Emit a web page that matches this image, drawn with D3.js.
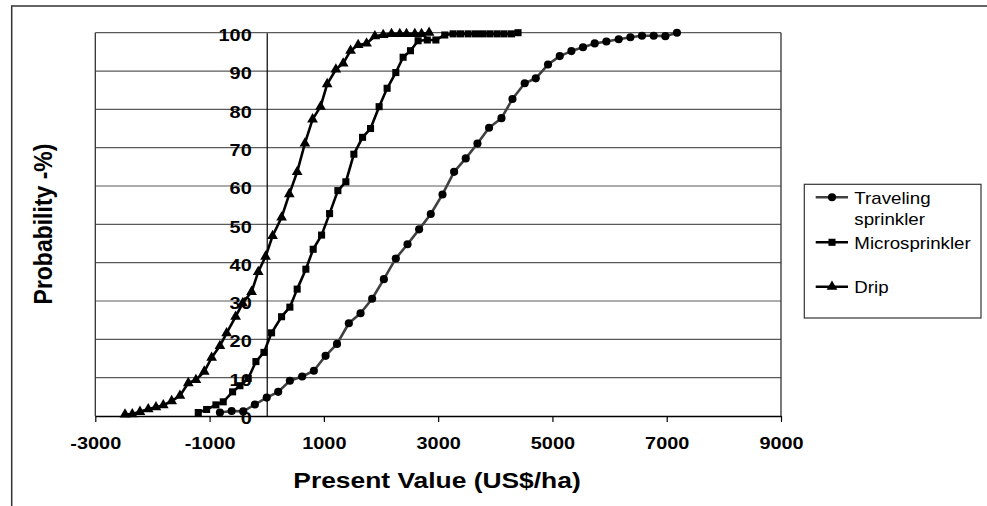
<!DOCTYPE html>
<html><head><meta charset="utf-8">
<script src="https://cdn.jsdelivr.net/npm/d3@7"></script>
<style>body{margin:0;background:#fff;}svg{display:block;font-family:"Liberation Sans",Arial,sans-serif;}</style>
</head><body>
<svg id="chart" width="987" height="506"></svg>
<script>
const seriesNames = ["Traveling sprinkler", "Microsprinkler", "Drip"];
const travelingValues = [[-819,0.9],[-614,1.3],[-411,1.2],[-207,3.0],[0,4.8],[201,6.3],[405,9.2],[620,10.3],[825,11.8],[1030,15.7],[1230,18.8],[1437,24.2],[1642,26.8],[1845,30.6],[2050,35.7],[2259,41.1],[2464,44.8],[2667,48.7],[2871,52.7],[3076,57.8],[3279,63.7],[3483,67.2],[3688,71.1],[3891,75.2],[4108,77.7],[4300,82.7],[4515,86.8],[4708,88.1],[4923,91.7],[5128,93.9],[5332,95.2],[5535,96.2],[5740,97.2],[5944,97.7],[6160,98.3],[6364,98.8],[6567,99.2],[6772,99.2],[6976,99.1],[7179,100]];
const microValues = [[-1198,0.9],[-1052,1.7],[-889,2.9],[-761,3.7],[-597,6.3],[-469,7.9],[-324,9.8],[-189,14.2],[-49,16.6],[85,21.7],[260,25.9],[405,28.4],[533,33.1],[685,38.3],[813,43.5],[960,47.2],[1100,52.8],[1245,58.8],[1385,61.1],[1525,68.3],[1677,72.7],[1817,75.0],[1967,80.7],[2107,85.5],[2259,89.6],[2387,93.6],[2516,95.3],[2649,97.9],[2810,98.1],[2960,98.1],[3116,99.4],[3262,99.7],[3391,99.7],[3524,99.7],[3653,99.7],[3776,99.7],[3903,99.7],[4031,99.7],[4154,99.7],[4283,99.7],[4398,100]];
const dripValues = [[-2480,0.4],[-2353,0.5],[-2218,1.1],[-2073,1.8],[-1938,2.3],[-1810,2.8],[-1664,3.9],[-1519,5.3],[-1373,8.6],[-1239,9.4],[-1093,11.6],[-964,15.2],[-819,18.3],[-702,21.6],[-544,25.9],[-422,29.4],[-265,32.4],[-149,37.6],[-20,41.6],[103,47],[260,51.8],[395,57.9],[533,63.7],[668,71.1],[802,77.4],[942,80.7],[1058,86.6],[1210,90.4],[1338,92.0],[1467,95.3],[1600,96.8],[1747,97.2],[1892,99.1],[2038,99.4],[2184,99.7],[2329,99.7],[2446,99.7],[2592,99.7],[2709,99.7],[2842,100]];
const xTicks = [-3000,-1000,1000,3000,5000,7000,9000];
const yTicks = [0,10,20,30,40,50,60,70,80,90,100];
const xTitle = "Present Value (US$/ha)";
const yTitle = "Probability -%)";

const svg = d3.select("#chart");
const L = 95.3, R = 781, T = 32.7, B = 416;
const x = d3.scaleLinear().domain([-3000, 9000]).range([L, R]);
const y = d3.scaleLinear().domain([0, 100]).range([B, T]);
const SX = 1.17;
const fmt = d => String(d);

// outer frame
svg.append("path").attr("d", `M11.7,506 V6 H987`).attr("fill","none").attr("stroke","#333").attr("stroke-width",1.5);

// gridlines
svg.append("g").selectAll("line").data(yTicks.filter(d=>d>0)).join("line")
  .attr("x1", L).attr("x2", R).attr("y1", d=>y(d)).attr("y2", d=>y(d))
  .attr("stroke", "#5a5a5a").attr("stroke-width", 1.2);

// plot frame
svg.append("path").attr("d", `M${L},${B} V${T} M${R},${T} V${B}`).attr("fill","none").attr("stroke","#333").attr("stroke-width",1.3);

// x axis
const gx = svg.append("g").attr("transform", `translate(0,${B})`)
  .call(d3.axisBottom(x).tickValues(xTicks).tickSize(6).tickFormat(fmt).tickSizeOuter(0));
gx.select(".domain").attr("stroke","#000").attr("stroke-width",1.5);
gx.selectAll(".tick line").attr("stroke","#000").attr("stroke-width",1.2);
gx.selectAll(".tick text").attr("y", 0).attr("dy", null)
  .attr("transform", `translate(0,33) scale(${SX},1)`)
  .attr("font-size", 17).attr("font-weight","bold").attr("fill","#000")
  .attr("font-family", "'Liberation Sans', Arial, sans-serif");

// y axis at x=0
const gy = svg.append("g").attr("transform", `translate(${x(0)},0)`)
  .call(d3.axisLeft(y).tickValues(yTicks).tickSize(0).tickFormat(fmt));
gy.select(".domain").attr("stroke","#000").attr("stroke-width",1.2);
gy.selectAll(".tick text").attr("x", -15/SX).attr("dy", "0.45em")
  .attr("transform", `scale(${SX},1)`)
  .attr("font-size", 17).attr("font-weight","bold").attr("fill","#000")
  .attr("font-family", "'Liberation Sans', Arial, sans-serif");

// titles
svg.append("text").attr("transform", `translate(437,488) scale(1.2,1)`)
  .attr("text-anchor","middle").attr("font-size",22).attr("font-weight","bold").text(xTitle);
svg.append("text").attr("transform", `translate(52,224) scale(1.15,1) rotate(-90)`)
  .attr("text-anchor","middle").attr("font-size",23).attr("font-weight","bold").text(yTitle);

const line = d3.line().x(d=>x(d[0])).y(d=>y(d[1]));
const series = [
  {name: seriesNames[0], data: travelingValues, color: "#404040", shape: "circle"},
  {name: seriesNames[1], data: microValues, color: "#000", shape: "square"},
  {name: seriesNames[2], data: dripValues, color: "#000", shape: "triangle"}
];
const sym = {circle: d3.symbol(d3.symbolCircle, 52), square: d3.symbol(d3.symbolSquare, 50), triangle: d3.symbol(d3.symbolTriangle, 50)};

series.forEach(s => {
  svg.append("path").datum(s.data).attr("d", line).attr("fill","none")
    .attr("stroke", s.color).attr("stroke-width", 2.6).attr("stroke-linejoin","round");
  svg.append("g").selectAll("path").data(s.data).join("path")
    .attr("transform", d=>`translate(${x(d[0])},${y(d[1])})`)
    .attr("d", sym[s.shape]()).attr("fill","#000");
});

// legend
const lg = svg.append("g");
lg.append("rect").attr("x",804.3).attr("y",184.3).attr("width",176.7).attr("height",133.7)
  .attr("fill","#fff").attr("stroke","#333").attr("stroke-width",1.2);
const legendRows = [
  {s: series[0], ly: 197.3, lines: ["Traveling", "sprinkler"], base: 204},
  {s: series[1], ly: 242.3, lines: [seriesNames[1]], base: 248.5},
  {s: series[2], ly: 286.7, lines: [seriesNames[2]], base: 292.7}
];
legendRows.forEach(r => {
  lg.append("line").attr("x1",815.7).attr("x2",848).attr("y1",r.ly).attr("y2",r.ly)
    .attr("stroke", r.s.color).attr("stroke-width",2.6);
  lg.append("path").attr("transform",`translate(832,${r.ly})`).attr("d", sym[r.s.shape]()).attr("fill","#000");
  r.lines.forEach((t,i) => {
    lg.append("text").attr("transform",`translate(854.3,${r.base + i*21}) scale(1.17,1)`)
      .attr("font-size",16).attr("fill","#000").text(t);
  });
});
</script>
</body></html>
